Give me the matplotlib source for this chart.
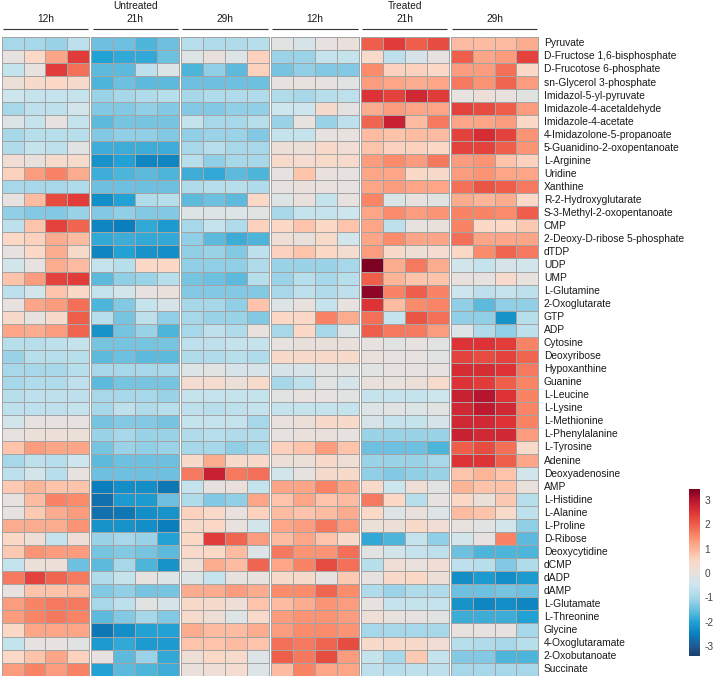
import numpy as np
import matplotlib
matplotlib.use("Agg")
import matplotlib.pyplot as plt
from matplotlib.colors import LinearSegmentedColormap, Normalize

plt.rcParams['font.family'] = ['Liberation Sans', 'DejaVu Sans']

metabolites = [
    "Pyruvate", "D-Fructose 1,6-bisphosphate", "D-Frucotose 6-phosphate", "sn-Glycerol 3-phosphate",
    "Imidazol-5-yl-pyruvate", "Imidazole-4-acetaldehyde", "Imidazole-4-acetate", "4-Imidazolone-5-propanoate",
    "5-Guanidino-2-oxopentanoate", "L-Arginine", "Uridine", "Xanthine", "R-2-Hydroxyglutarate",
    "S-3-Methyl-2-oxopentanoate", "CMP", "2-Deoxy-D-ribose 5-phosphate", "dTDP", "UDP", "UMP",
    "L-Glutamine", "2-Oxoglutarate", "GTP", "ADP", "Cytosine", "Deoxyribose", "Hypoxanthine", "Guanine",
    "L-Leucine", "L-Lysine", "L-Methionine", "L-Phenylalanine", "L-Tyrosine", "Adenine", "Deoxyadenosine",
    "AMP", "L-Histidine", "L-Alanine", "L-Proline", "D-Ribose", "Deoxycytidine", "dCMP", "dADP", "dAMP",
    "L-Glutamate", "L-Threonine", "Glycine", "4-Oxoglutaramate", "2-Oxobutanoate", "Succinate",
]

conditions = ["Untreated", "Treated"]
timepoints = ["12h", "21h", "29h"]

untreated_12h = [
    [-1.0, -1.0, -1.1, -0.7], [0.0, 0.5, 1.2, 2.4], [-0.6, 0.0, 2.4, 1.8], [0.15, 0.4, 0.5, 0.4],
    [-0.5, -0.6, -0.6, -0.6], [-1.0, -0.7, -0.7, -0.4], [-0.2, -0.6, 0.0, -0.6], [-1.0, -0.8, -0.8, -0.8],
    [-0.9, -0.6, -0.7, -0.1], [0.25, 0.1, 0.35, 0.35], [0.6, 1.3, 1.6, 1.1], [-1.0, -1.0, -1.0, -0.9],
    [0.0, 0.9, 2.2, 2.4], [-1.2, -1.3, -1.3, -1.1], [-0.7, 0.8, 2.3, 1.9], [0.5, 0.6, 1.1, 0.9],
    [0.0, 0.5, 1.1, 0.4], [-0.4, 0.0, 1.1, 0.9], [0.8, 1.3, 2.3, 2.4], [-0.7, -0.4, 0.8, 0.5],
    [0.0, 1.2, 1.3, 1.8], [0.4, 0.0, 0.45, 2.0], [1.2, 1.1, 1.3, 1.9], [-0.8, -0.8, -0.7, -0.6],
    [-1.1, -0.8, -0.8, -0.8], [-1.0, -1.0, -1.0, -0.8], [-1.0, -0.9, -0.9, -0.7], [-0.8, -0.7, -0.7, -0.7],
    [-0.7, -0.7, -0.7, -0.6], [-0.4, 0.0, 0.0, 0.0], [0.0, 0.15, 0.15, 0.15], [0.8, 1.3, 1.2, 1.2],
    [-1.0, -0.7, -0.8, -0.5], [-0.7, -0.4, -0.8, 0.0], [0.7, 1.0, 0.8, 0.8], [0.0, 0.9, 1.6, 1.5],
    [0.0, 0.7, 1.1, 1.3], [1.1, 1.1, 1.1, 1.4], [0.5, 0.2, -0.6, 0.2], [0.7, 1.4, 1.3, 1.3],
    [-0.6, 0.15, 0.15, -1.5], [1.7, 2.3, 1.9, 1.7], [0.05, 0.8, 0.8, 0.9], [1.3, 1.6, 1.7, 1.7],
    [1.3, 1.6, 1.7, 1.6], [0.5, 1.2, 1.2, 1.2], [-0.6, 0.0, 0.0, -0.1], [0.5, 0.8, 1.2, 0.6],
    [1.3, 1.6, 1.3, 1.6],
]
untreated_21h = [
    [-1.5, -1.5, -1.7, -1.5], [-2.0, -1.9, -1.9, -1.5], [-1.6, -1.6, -0.7, -0.2], [-1.7, -1.5, -1.6, -1.6],
    [-1.1, -1.0, -0.9, -0.8], [-1.3, -1.3, -1.2, -1.3], [-1.6, -1.4, -1.4, -1.4], [-1.3, -1.2, -1.2, -1.3],
    [-1.8, -1.8, -1.8, -1.8], [-2.2, -2.0, -2.4, -2.4], [-1.8, -1.7, -1.6, -1.7], [-1.5, -1.5, -1.5, -1.5],
    [-2.3, -2.0, -0.9, -0.8], [-1.3, -1.2, -1.3, -1.3], [-2.4, -2.5, -1.9, -2.1], [-1.9, -1.8, -1.9, -1.9],
    [-2.4, -2.0, -2.2, -2.3], [-0.6, -0.8, 0.5, 0.5], [-1.6, -1.2, -1.1, -0.8], [-0.6, -0.4, 0.0, 0.1],
    [-1.7, -1.3, -0.6, -0.3], [-0.8, -1.4, -0.7, -1.2], [-2.2, -1.4, -1.1, -1.7], [-1.4, -1.4, -1.4, -1.4],
    [-1.6, -1.5, -1.6, -1.6], [-1.0, -1.0, -1.0, -1.0], [-1.6, -1.4, -1.4, -1.4], [-1.0, -1.0, -1.0, -1.1],
    [-1.0, -0.7, -0.9, -0.8], [-1.4, -1.3, -1.3, -1.4], [-1.1, -1.0, -1.1, -1.1], [-1.4, -1.1, -1.2, -1.1],
    [-1.6, -1.5, -1.5, -1.5], [-1.5, -1.5, -1.5, -1.5], [-2.5, -2.3, -2.3, -2.6], [-2.7, -2.1, -2.1, -1.5],
    [-2.7, -2.6, -2.3, -2.2], [-2.2, -2.2, -2.3, -2.5], [-1.1, -1.0, -1.1, -2.0], [-1.4, -1.3, -1.4, -1.6],
    [-1.6, -1.0, -1.7, -2.2], [-0.9, -0.6, 0.0, -0.2], [-1.3, -1.2, -1.4, -1.4], [-1.0, -0.7, -0.1, -0.3],
    [-1.6, -1.3, -1.0, -1.3], [-2.6, -2.3, -2.0, -2.0], [-2.1, -1.9, -2.1, -2.1], [0.0, -1.6, -1.1, -1.9],
    [-2.0, -1.6, -1.7, -1.8],
]
untreated_29h = [
    [-0.8, -0.9, -0.9, -0.8], [-0.2, 0.1, -0.2, 0.6], [-1.7, -1.2, -1.6, 0.6], [-1.5, -1.5, -1.5, -1.5],
    [-1.0, -0.9, -0.9, -0.9], [-1.3, -1.3, -1.2, -1.2], [-0.6, -1.0, -1.0, -0.8], [-1.2, -1.1, -1.1, -1.3],
    [-1.0, -0.8, -1.0, -1.0], [-0.8, -1.2, -1.0, -1.0], [-1.8, -1.9, -1.6, -1.7], [-0.9, -0.8, -0.8, -0.9],
    [-1.6, -1.5, -1.6, 0.5], [-0.2, -0.2, -0.2, -0.1], [-1.0, -0.6, -0.9, 0.6], [-1.2, -1.6, -1.8, -1.7],
    [-1.2, -1.1, -1.3, -0.7], [-1.2, -1.2, -1.2, -0.9], [-1.4, -1.5, -1.6, -0.8], [-1.3, -1.3, -1.3, -1.3],
    [-1.0, -1.0, -1.2, 0.8], [-1.0, -1.1, -1.1, -1.3], [-1.0, -0.7, -0.9, 0.05], [-0.7, -0.7, -0.6, -0.6],
    [-0.9, -0.9, -0.8, -0.9], [-0.2, -0.1, -0.3, -0.3], [0.3, 0.3, 0.15, 0.4], [-0.6, -0.6, -0.6, -0.6],
    [-0.7, -0.8, -0.7, -0.6], [-0.6, -0.6, -0.6, -1.0], [-0.9, -0.8, -0.9, -0.9], [-1.0, -1.0, -1.2, -1.0],
    [0.4, 1.1, 0.4, 0.4], [1.7, 2.8, 1.7, 1.8], [-0.6, 0.0, 0.1, -0.6], [-0.9, -1.3, -1.2, 1.2],
    [0.6, 0.45, 0.05, 0.6], [0.4, 0.5, 0.05, -0.4], [0.5, 2.4, 1.9, 1.3], [0.45, 0.5, 0.9, -0.2],
    [0.2, 1.1, 0.9, 1.9], [-0.2, -0.6, 0.0, 0.05], [1.1, 1.1, 1.3, 1.1], [0.4, 0.35, 0.2, 0.8],
    [0.35, 0.2, -0.2, 0.4], [1.1, 0.9, 0.9, 1.1], [0.8, 0.8, 0.9, 0.8], [0.2, 0.5, 0.35, -0.2],
    [0.1, 0.2, 0.3, -0.2],
]
treated_12h = [
    [-0.1, -0.3, 0.0, 0.1], [-1.1, -1.1, -0.6, -0.6], [-1.4, -1.2, -1.3, -1.3], [0.0, 0.05, 0.0, -0.1],
    [-0.9, -1.0, -0.8, -0.7], [-0.5, -0.5, 0.35, -0.05], [-1.1, 0.0, -1.1, -0.7], [-0.6, -0.6, 0.0, 0.05],
    [0.15, 0.15, 0.4, 0.25], [0.4, 0.3, 0.4, 0.35], [0.0, 0.8, 0.05, 0.0], [0.0, 0.1, 0.05, 0.0],
    [-0.2, 0.1, -0.6, 0.0], [-1.0, -0.6, -0.6, -0.5], [0.5, 0.8, 0.5, 0.8], [0.2, 0.1, 0.4, -0.4],
    [0.6, 0.8, 0.5, 0.3], [-1.1, -1.1, -1.1, -1.0], [-1.1, -0.8, -1.0, -0.8], [-1.0, -0.7, -0.9, -0.7],
    [-0.2, 0.05, -0.6, 0.0], [0.5, 0.5, 1.6, 1.1], [-1.0, 0.5, -1.0, -0.2], [0.0, 0.1, 0.1, 0.1],
    [0.4, 0.4, 0.4, 0.4], [-0.3, -0.3, -0.1, -0.1], [-1.0, -0.7, -0.1, -0.3], [-0.1, 0.0, 0.0, -0.1],
    [-0.6, -0.6, -0.6, -0.6], [0.05, 0.15, 0.4, 0.4], [0.0, 0.1, 0.1, 0.0], [0.6, 0.8, 1.3, 0.8],
    [0.15, 0.15, 0.4, 0.2], [-0.4, 0.0, 0.35, 0.4], [1.2, 1.2, 1.6, 1.2], [0.8, 1.2, 0.8, 0.9],
    [0.9, 0.8, 0.9, 1.1], [1.2, 1.3, 1.7, 1.3], [0.9, 1.2, 0.8, 0.4], [1.7, 1.4, 1.4, 1.8],
    [1.2, 1.6, 2.2, 1.8], [0.4, 0.4, 0.0, 0.7], [1.5, 1.5, 1.9, 1.5], [0.9, 1.1, 1.4, 1.3],
    [1.3, 1.4, 1.4, 1.3], [1.3, 1.5, 1.5, 1.4], [1.8, 1.7, 1.9, 2.2], [2.0, 1.7, 2.2, 1.3],
    [0.9, 1.6, 1.2, 1.2],
]
treated_21h = [
    [2.0, 2.4, 2.0, 2.2], [0.4, -0.7, -0.3, 0.0], [1.5, 0.6, 0.6, 0.5], [1.3, 1.2, 1.1, 1.2],
    [2.5, 2.3, 2.7, 2.4], [1.1, 1.3, 1.2, 1.2], [1.9, 2.8, 0.9, 1.7], [0.9, 0.8, 0.9, 0.9],
    [0.8, 0.6, 0.6, 0.5], [1.3, 1.5, 1.3, 1.7], [1.2, 1.2, 0.5, 0.4], [1.2, 1.3, 1.2, 1.2],
    [1.6, -0.25, 0.0, -0.1], [1.2, 1.5, 1.3, 1.4], [1.2, -0.7, 0.0, 0.1], [1.2, 1.5, 1.2, 1.2],
    [1.3, 0.4, 0.2, 0.3], [3.4, 1.1, 1.7, 1.1], [2.0, 1.0, 0.8, 0.8], [3.3, 1.6, 2.0, 1.6],
    [2.5, 0.9, 1.5, 1.6], [1.8, -0.6, 2.1, 1.8], [2.0, 1.7, 1.7, 1.3], [0.0, -0.1, 0.0, -0.1],
    [0.1, 0.0, 0.0, -0.1], [-0.1, 0.0, 0.0, 0.0], [0.1, 0.05, 0.15, 0.35], [-0.6, -0.6, -0.6, -0.5],
    [-0.2, -0.1, -0.2, -0.1], [-0.3, -0.6, -0.6, -0.3], [-1.1, -1.1, -1.1, -1.1], [-1.5, -1.5, -1.5, -1.7],
    [-1.1, -1.1, -1.1, -1.0], [-1.2, -1.3, -1.2, -1.1], [0.4, -0.5, 0.2, -0.1], [1.7, 0.5, -0.8, 0.0],
    [0.5, -0.2, 0.1, -0.2], [0.15, 0.15, 0.4, 0.25], [-1.9, -1.7, -0.6, -1.2], [-0.1, -0.4, -0.6, -0.7],
    [-0.8, 0.2, 0.05, 0.25], [0.0, 0.4, 0.5, 0.15], [-0.9, -1.1, -0.9, -0.9], [0.0, -0.6, -0.6, -0.6],
    [0.2, 0.05, 0.0, -0.1], [-1.0, -1.0, -1.0, -1.0], [0.4, 0.4, 0.4, 0.25], [-0.6, -1.0, 0.7, -0.6],
    [-0.7, -0.8, -0.7, -0.7],
]
treated_29h = [
    [0.9, 0.9, 0.9, 1.1], [2.0, 1.2, 1.3, 2.3], [1.3, 1.3, 1.8, 0.5], [1.7, 1.4, 1.9, 1.3],
    [0.0, 0.15, 0.05, -0.1], [2.3, 2.2, 2.0, 1.3], [1.2, 1.2, 1.3, 0.5], [2.3, 2.6, 2.3, 1.4],
    [2.3, 2.3, 2.0, 1.4], [1.3, 1.4, 0.8, 0.6], [1.3, 1.4, 1.2, 1.2], [1.8, 2.1, 2.0, 1.7],
    [1.1, 1.0, 1.1, 0.5], [1.6, 1.6, 1.5, 2.0], [1.6, 0.5, 0.5, 0.7], [1.8, 1.2, 1.2, 1.2],
    [0.5, 1.5, 1.9, 1.7], [-0.4, -0.6, -0.3, -0.4], [0.05, 0.0, 0.35, 0.05], [-0.5, -0.7, -0.6, -0.7],
    [-1.2, -1.6, -1.2, -1.2], [-1.2, -1.2, -2.2, -0.8], [-0.2, -0.9, -1.2, -0.7], [2.5, 2.5, 2.4, 1.6],
    [2.3, 2.2, 2.3, 1.9], [2.6, 2.6, 2.5, 1.7], [2.5, 2.4, 2.0, 1.6], [2.8, 3.0, 2.5, 1.6],
    [2.7, 2.9, 2.7, 1.6], [2.7, 2.7, 2.5, 1.6], [2.8, 2.7, 2.7, 1.3], [2.0, 2.2, 1.8, 0.4],
    [2.5, 2.5, 2.0, 1.2], [0.8, 1.0, 0.8, -0.4], [1.0, 0.8, 0.8, 0.1], [0.5, 0.15, 0.7, -0.8],
    [0.9, 0.8, 0.4, -0.7], [0.05, -0.1, -0.4, -1.2], [-0.4, 0.0, 1.6, -1.6], [-1.5, -1.7, -1.7, -1.7],
    [-0.7, -0.8, -1.3, -0.9], [-2.3, -2.1, -2.3, -2.1], [-1.5, -1.5, -1.4, -1.5], [-2.2, -2.4, -2.3, -2.4],
    [-1.8, -1.8, -1.8, -2.0], [0.05, 0.0, 0.0, -1.0], [-0.8, -0.9, -1.0, -0.8], [-1.3, -1.3, -1.7, -1.7],
    [-1.0, -1.0, -1.0, -1.0],
]

groups = [untreated_12h, untreated_21h, untreated_29h, treated_12h, treated_21h, treated_29h]
group_time = timepoints * 2

colorbar_ticks = [-3, -2, -1, 0, 1, 2, 3]
vmin, vmax = -3.4, 3.45

anchors = [(-3.4, "#1c3f6e"), (-3.0, "#1f5a94"), (-2.5, "#0a80be"), (-2.0, "#22a2d4"),
           (-1.5, "#6cc0df"), (-1.0, "#a8d8e9"), (-0.5, "#cde6ee"), (0.0, "#e6e2e0"),
           (0.5, "#fcd8c6"), (1.0, "#fdb598"), (1.5, "#fa8c6c"), (2.0, "#ee5e4a"),
           (2.5, "#de3436"), (3.0, "#ba1530"), (3.45, "#7a0020")]
cmap = LinearSegmentedColormap.from_list(
    "hm", [((v - vmin) / (vmax - vmin), c) for v, c in anchors])
norm = Normalize(vmin=vmin, vmax=vmax)

W, H = 713, 683
fig = plt.figure(figsize=(W / 100, H / 100), dpi=100)
top_px, bot_px, left_px, right_px = 36.5, 676, 1, 539
ax = fig.add_axes([left_px / W, 1 - bot_px / H, (right_px - left_px) / W, (bot_px - top_px) / H])

n_rows = len(metabolites)
gap = 0.1
for g, data in enumerate(groups):
    arr = np.array(data)
    x0 = g * (4 + gap)
    X = np.arange(5) + x0
    Y = np.arange(n_rows + 1)
    ax.pcolormesh(X, Y, arr, cmap=cmap, norm=norm, edgecolors="#a4a4a4", linewidth=0.7)

total_w = 6 * 4 + 5 * gap
ax.set_xlim(-0.03, total_w + 0.03)
ax.set_ylim(n_rows + 0.03, -0.03)
ax.axis("off")

for i, name in enumerate(metabolites):
    ax.text(total_w + 0.25, i + 0.5, name, ha="left", va="center", fontsize=7.4, color="#1a1a1a")

row_px = (bot_px - top_px) / n_rows
def py(ypix):
    return (ypix - top_px) / row_px

for g in range(6):
    x0 = g * (4 + gap)
    ax.text(x0 + 2, py(19), group_time[g], ha="center", va="center", fontsize=7.3, color="#1a1a1a", clip_on=False)
    ax.plot([x0 + 0.05, x0 + 3.95], [py(29), py(29)], color="#333333", lw=0.8, clip_on=False,
            solid_capstyle="butt")
for k, cond in enumerate(conditions):
    xc = (k * 3 + 1.5) * (4 + gap) - gap / 2
    ax.text(xc, py(6), cond, ha="center", va="center", fontsize=7.3, color="#1a1a1a", clip_on=False)

cax = fig.add_axes([689 / W, 1 - 656 / H, 11 / W, (656 - 489) / H])
cb = fig.colorbar(plt.cm.ScalarMappable(norm=norm, cmap=cmap), cax=cax, ticks=colorbar_ticks)
cb.outline.set_visible(False)
cb.ax.tick_params(length=0, labelsize=7.3, colors="#444444", pad=3)
cb.ax.set_yticklabels([str(t) for t in colorbar_ticks])

fig.savefig("out.png", dpi=100)
